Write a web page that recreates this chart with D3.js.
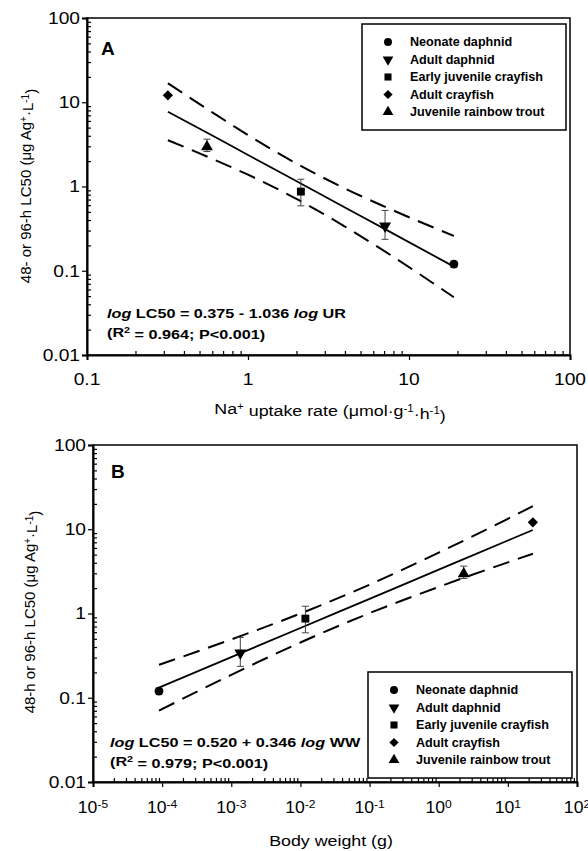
<!DOCTYPE html>
<html>
<head>
<meta charset="utf-8">
<script src="https://cdn.jsdelivr.net/npm/d3@7"></script>
<style>
body { margin: 0; background: #fff; }
text { font-family: "Liberation Sans", Arial, sans-serif; fill: #000; }
</style>
</head>
<body>
<svg id="chart" width="588" height="851"></svg>
<script>
// species, in legend order
var species = ["Neonate daphnid", "Adult daphnid", "Early juvenile crayfish", "Adult crayfish", "Juvenile rainbow trout"];
var uptakeRate = [19.0, 7.1, 2.13, 0.318, 0.556];     // umol/g/h
var bodyWeight = [9.0e-5, 1.35e-3, 0.0118, 23, 2.3];  // g
var lc50 = [0.12, 0.34, 0.87, 12.1, 2.96];
var errLow = [0.11, 0.236, 0.59, null, 2.6];
var errHigh = [0.13, 0.52, 1.22, null, 3.65];

// regression line and 95% bands
var bandUrX = [0.318, 0.6, 1, 2.1, 4, 7, 19];
var fitUr = [7.73, 4.03, 2.37, 1.10, 0.564, 0.316, 0.112];
var upperUr = [16.8, 7.60, 4.08, 1.78, 0.948, 0.581, 0.259];
var lowerUr = [3.55, 2.13, 1.38, 0.678, 0.335, 0.172, 0.0485];

var bandWwX = [9.0e-5, 1e-3, 1e-2, 1e-1, 1, 10, 23];
var fitWw = [0.132, 0.303, 0.673, 1.49, 3.31, 7.35, 9.79];
var upperWw = [0.246, 0.492, 1.00, 2.20, 5.28, 13.3, 18.8];
var lowerWw = [0.0703, 0.187, 0.453, 1.01, 2.07, 4.05, 5.11];

var yTicks = [0.01, 0.1, 1, 10, 100];
var yTickLabels = ["0.01", "0.1", "1", "10", "100"];
var xTicksA = [0.1, 1, 10, 100];
var xTickLabelsA = ["0.1", "1", "10", "100"];
var xExpB = [-5, -4, -3, -2, -1, 0, 1, 2];

var svg = d3.select("#chart");

// the scanned figure's lettering is a bit wider than Liberation Sans
function wideText(parent, x, y, sx) {
    return parent.append("text")
        .attr("transform", "translate(" + x + "," + y + ") scale(" + sx + ",1)");
}

function symbolFor(i, size) {
    if (i == 0) return {path: d3.symbol().type(d3.symbolCircle).size(size)(), rot: 0};
    if (i == 1) return {path: d3.symbol().type(d3.symbolTriangle).size(size)(), rot: 180};
    if (i == 2) return {path: d3.symbol().type(d3.symbolSquare).size(size)(), rot: 0};
    if (i == 3) return {path: d3.symbol().type(d3.symbolSquare).size(size * 0.85)(), rot: 45};
    return {path: d3.symbol().type(d3.symbolTriangle).size(size)(), rot: 0};
}

function drawPanel(p) {
    var g = svg.append("g");
    var x = d3.scaleLog().domain(p.xDomain).range([p.left, p.right]);
    var y = d3.scaleLog().domain([0.01, 100]).range([p.bottom, p.top]);

    // frame
    g.append("rect")
        .attr("x", p.left).attr("y", p.top)
        .attr("width", p.right - p.left).attr("height", p.bottom - p.top)
        .attr("fill", "none").attr("stroke", "#000").attr("stroke-width", 1.5);

    // y axis: major ticks outward, minor inward
    var yMinor = y.ticks().filter(function (v) { return yTicks.indexOf(v) < 0; });
    g.append("g").attr("transform", "translate(" + p.left + ",0)")
        .call(d3.axisLeft(y).tickValues(yMinor).tickSize(-4).tickFormat(""))
        .call(function (a) { a.select(".domain").remove(); });
    g.append("g").attr("transform", "translate(" + p.left + ",0)")
        .call(d3.axisLeft(y).tickValues(yTicks).tickSize(5).tickFormat(""))
        .call(function (a) { a.select(".domain").attr("stroke-width", 2); });
    g.selectAll(".tick line").attr("stroke-width", 1.2);
    yTicks.forEach(function (d, i) {
        wideText(g, p.left - 7, y(d), 1.2)
            .attr("dy", "0.36em")
            .attr("text-anchor", "end")
            .style("font-size", "16px")
            .text(yTickLabels[i]);
    });

    // x axis
    var xMinor = x.ticks().filter(function (v) { return p.xTicks.indexOf(v) < 0; });
    g.append("g").attr("transform", "translate(0," + p.bottom + ")")
        .call(d3.axisBottom(x).tickValues(xMinor).tickSize(-4).tickFormat(""))
        .call(function (a) { a.select(".domain").remove(); });
    g.append("g").attr("transform", "translate(0," + p.bottom + ")")
        .call(d3.axisBottom(x).tickValues(p.xTicks).tickSize(5).tickFormat(""))
        .call(function (a) { a.select(".domain").attr("stroke-width", 2); });
    g.selectAll(".tick line").attr("stroke-width", 1.2);
    p.xLabels(g, x);

    // axis titles
    p.xTitle(wideText(g, p.xTitleX, p.xTitleY, 1.15)
        .attr("text-anchor", "middle")
        .style("font-size", "15.5px"));
    var yt = g.append("text")
        .attr("transform", "translate(" + p.yTitleX + "," + p.yTitleY + ") rotate(-90)")
        .attr("text-anchor", "middle")
        .style("font-size", "15px");
    yt.append("tspan").text(p.yTitle + " (\u03bcg Ag");
    yt.append("tspan").attr("dy", "-0.45em").style("font-size", "10px").text("+");
    yt.append("tspan").attr("dy", "0.45em").text("\u00b7L");
    yt.append("tspan").attr("dy", "-0.45em").style("font-size", "10px").text("-1");
    yt.append("tspan").attr("dy", "0.45em").text(")");

    // panel letter
    g.append("text").attr("x", p.letterX).attr("y", p.letterY)
        .style("font-size", "19px").style("font-weight", "bold").text(p.letter);

    // bands and regression line
    var line = d3.line()
        .x(function (d) { return x(d[0]); })
        .y(function (d) { return y(d[1]); })
        .curve(d3.curveMonotoneX);
    [p.upper, p.lower].forEach(function (b) {
        g.append("path")
            .attr("d", line(p.bandX.map(function (v, i) { return [v, b[i]]; })))
            .attr("fill", "none").attr("stroke", "#000")
            .attr("stroke-width", 2).attr("stroke-dasharray", "17,9");
    });
    g.append("path")
        .attr("d", line(p.bandX.map(function (v, i) { return [v, p.fit[i]]; })))
        .attr("fill", "none").attr("stroke", "#000").attr("stroke-width", 1.8);

    // error bars
    p.xVals.forEach(function (xv, i) {
        if (errLow[i] == null) return;
        var cx = x(xv);
        g.append("line").attr("x1", cx).attr("x2", cx)
            .attr("y1", y(errLow[i])).attr("y2", y(errHigh[i]))
            .attr("stroke", "#444").attr("stroke-width", 1);
        [errLow[i], errHigh[i]].forEach(function (e) {
            g.append("line").attr("x1", cx - 3.5).attr("x2", cx + 3.5)
                .attr("y1", y(e)).attr("y2", y(e))
                .attr("stroke", "#444").attr("stroke-width", 1);
        });
    });

    // markers
    p.xVals.forEach(function (xv, i) {
        var s = symbolFor(i, 62);
        g.append("path").attr("d", s.path)
            .attr("transform", "translate(" + x(xv) + "," + y(lc50[i]) + ") rotate(" + s.rot + ")")
            .attr("fill", "#000");
    });

    // equation
    var eq = wideText(g, p.eqX, p.eqY, 1.2)
        .style("font-size", "13.5px").style("font-weight", "bold");
    eq.append("tspan").style("font-style", "italic").text("log");
    eq.append("tspan").text(" LC50 = " + p.eqText + " ");
    eq.append("tspan").style("font-style", "italic").text("log");
    eq.append("tspan").text(" " + p.eqVar);
    var r2 = wideText(g, p.eqX, p.eqY + 19, 1.2)
        .style("font-size", "13.5px").style("font-weight", "bold");
    r2.append("tspan").text("(R");
    r2.append("tspan").attr("dy", "-0.45em").style("font-size", "9px").text("2");
    r2.append("tspan").attr("dy", "0.45em").text(" = " + p.r2 + "; P<0.001)");

    // legend
    g.append("rect").attr("x", p.legX).attr("y", p.legY)
        .attr("width", 204).attr("height", 106)
        .attr("fill", "#fff").attr("stroke", "#000").attr("stroke-width", 1.5);
    species.forEach(function (name, i) {
        var ly = p.legY + 18 + i * 17.5;
        var s = symbolFor(i, 50);
        g.append("path").attr("d", s.path)
            .attr("transform", "translate(" + (p.legX + 26) + "," + ly + ") rotate(" + s.rot + ")")
            .attr("fill", "#000");
        wideText(g, p.legX + 48, ly, 1.05).attr("dy", "0.36em")
            .style("font-size", "12px").style("font-weight", "bold").text(name);
    });
}

drawPanel({
    left: 87, right: 570, top: 18, bottom: 355,
    xDomain: [0.1, 100], xTicks: xTicksA,
    xLabels: function (g, x) {
        xTicksA.forEach(function (d, i) {
            wideText(g, x(d), 385, 1.2)
                .attr("text-anchor", "middle").style("font-size", "16px")
                .text(xTickLabelsA[i]);
        });
    },
    xTitleX: 330, xTitleY: 414,
    xTitle: function (t) {
        t.append("tspan").text("Na");
        t.append("tspan").attr("dy", "-0.45em").style("font-size", "10px").text("+");
        t.append("tspan").attr("dy", "0.45em").text(" uptake rate (\u03bcmol\u00b7g");
        t.append("tspan").attr("dy", "-0.45em").style("font-size", "10px").text("-1");
        t.append("tspan").attr("dy", "0.45em").text("\u00b7h");
        t.append("tspan").attr("dy", "-0.45em").style("font-size", "10px").text("-1");
        t.append("tspan").attr("dy", "0.45em").text(")");
    },
    yTitle: "48- or 96-h LC50", yTitleX: 31, yTitleY: 186,
    letter: "A", letterX: 101, letterY: 55,
    bandX: bandUrX, fit: fitUr, upper: upperUr, lower: lowerUr,
    xVals: uptakeRate,
    eqX: 107, eqY: 318, eqText: "0.375 - 1.036", eqVar: "UR", r2: "0.964",
    legX: 362, legY: 24
});

drawPanel({
    left: 93, right: 577, top: 445, bottom: 782,
    xDomain: [1e-5, 100], xTicks: xExpB.map(function (e) { return Math.pow(10, e); }),
    xLabels: function (g, x) {
        xExpB.forEach(function (e) {
            var t = wideText(g, x(Math.pow(10, e)), 813, 1.1)
                .attr("text-anchor", "middle").style("font-size", "16px");
            t.append("tspan").text("10");
            t.append("tspan").attr("dy", "-0.45em").style("font-size", "11px").text(e);
        });
    },
    xTitleX: 331, xTitleY: 846,
    xTitle: function (t) { t.text("Body weight (g)"); },
    yTitle: "48-h or 96-h LC50", yTitleX: 35, yTitleY: 612,
    letter: "B", letterX: 111, letterY: 478,
    bandX: bandWwX, fit: fitWw, upper: upperWw, lower: lowerWw,
    xVals: bodyWeight,
    eqX: 110, eqY: 747, eqText: "0.520 + 0.346", eqVar: "WW", r2: "0.979",
    legX: 368, legY: 672
});
</script>
</body>
</html>
